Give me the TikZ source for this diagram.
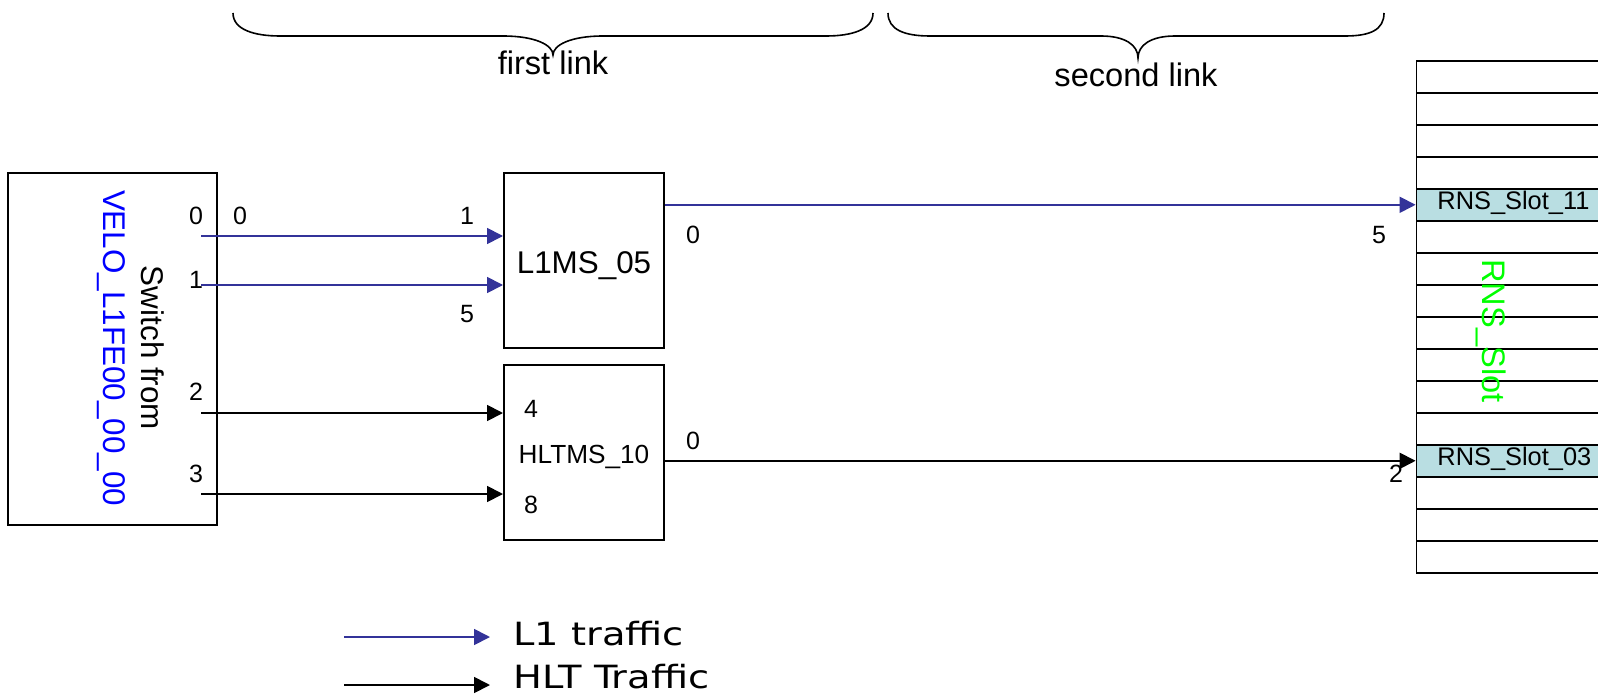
\documentclass[tikz,border=0pt]{standalone}
\usepackage{fontspec}
\setmainfont{Liberation Sans}
\newfontfamily\legendfont[FakeStretch=1.2]{DejaVu Sans}
\usetikzlibrary{arrows.meta}
\definecolor{linkblue}{RGB}{51,51,153}
\definecolor{textblue}{RGB}{0,0,255}
\definecolor{slotgreen}{RGB}{0,255,0}
\definecolor{slotfill}{RGB}{185,222,226}
\begin{document}
\begin{tikzpicture}[x=0.5pt,y=-0.5pt,
  box/.style={draw, line width=1pt, inner sep=0pt},
  row/.style={draw, line width=0.9pt, minimum width=92pt, minimum height=16pt, inner sep=0pt},
  port/.style={font=\fontsize{12.5}{14}\selectfont, inner sep=0pt, anchor=base},
  l1/.style={draw=linkblue, line width=0.9pt, -{Triangle[length=8pt,width=8pt]}},
  hlt/.style={draw=black, line width=0.9pt, -{Triangle[length=8pt,width=8pt]}},
  bracepath/.style={line width=0.8pt},
  bigtext/.style={font=\fontsize{15.7}{19}\selectfont, inner sep=0pt, anchor=base},
  legendtext/.style={anchor=base west, inner sep=0pt, font=\legendfont\fontsize{16}{19}\selectfont}]
\useasboundingbox (0,0) rectangle (1598,695);
\clip (0,0) rectangle (1598,695);

% braces over the two links
\draw[bracepath] (233,13) .. controls (233,30) and (255,36) .. (280,36) -- (503,36)
  .. controls (535,36) and (553,45) .. (553,55)
  .. controls (553,45) and (571,36) .. (603,36) -- (826,36)
  .. controls (851,36) and (873,30) .. (873,13);
\draw[bracepath] (888,13) .. controls (888,30) and (905,36) .. (930,36) -- (1101,36)
  .. controls (1125,36) and (1138,45) .. (1138,58)
  .. controls (1138,45) and (1151,36) .. (1175,36) -- (1345,36)
  .. controls (1370,36) and (1384,30) .. (1384,13);
\node[bigtext, font=\fontsize{16.3}{19}\selectfont] (firstlink) at (553,75) {first link};
\node[bigtext, font=\fontsize{16.3}{19}\selectfont] (secondlink) at (1136,87) {second link};

% source switch
\node[box, minimum width=104.5pt, minimum height=176pt] (sw) at (112.5,349) {};
\node[bigtext, rotate=-90] (swtitle) at (141,348) {Switch from};
\node[bigtext, rotate=-90, text=textblue] (swid) at (103,348) {VELO\_L1FE00\_00\_00};
\node[port] (sw0) at (196,225) {0};
\node[port] (sw0b) at (240,225) {0};
\node[port] (sw1) at (196,288) {1};
\node[port] (sw2) at (196,400) {2};
\node[port] (sw3) at (196,482) {3};
\coordinate (o0) at (201,236);
\coordinate (o1) at (201,285);
\coordinate (o2) at (201,413);
\coordinate (o3) at (201,494);

% mid-level switches
\node[box, minimum width=80pt, minimum height=87.5pt] (l1ms) at (584,260.5) {};
\node[bigtext] (l1mstext) at (584,273) {L1MS\_05};
\node[box, minimum width=80pt, minimum height=87.5pt] (hltms) at (584,452.5) {};
\node[bigtext, font=\fontsize{13.1}{15}\selectfont] (hltmstext) at (584,463) {HLTMS\_10};
\node[port] (l1in1) at (467,225) {1};
\node[port] (l1in5) at (467,322) {5};
\node[port] (hltin4) at (531,417) {4};
\node[port] (hltin8) at (531,513) {8};

% RNS slot rack
\foreach \i in {0,...,15}
  \node[row] (r\i) at (1508.5,76.8+32*\i) {};
\node[row, fill=slotfill] (r4) at (1508.5,76.8+32*4) {};
\node[row, fill=slotfill] (r12) at (1508.5,76.8+32*12) {};
\node[port, anchor=base west, font=\fontsize{12.7}{14}\selectfont] (slot11) at (1437,209) {RNS\_Slot\_11};
\node[port, anchor=base west, font=\fontsize{12.7}{14}\selectfont] (slot03) at (1437,465) {RNS\_Slot\_03};
\node[bigtext, rotate=-90, text=slotgreen, font=\fontsize{16.3}{19}\selectfont] (rnsname) at (1482,331) {RNS\_Slot};

% first link connectors
\draw[l1] (o0) -- (o0 -| l1ms.west);
\draw[l1] (o1) -- (o1 -| l1ms.west);
\draw[hlt] (o2) -- (o2 -| hltms.west);
\draw[hlt] (o3) -- (o3 -| hltms.west);

% second link connectors
\draw[l1] (l1ms.east |- r4.west) -- (r4.west);
\draw[hlt] (hltms.east |- r12.west) -- (r12.west);
\node[port] (l1out0) at (693,243) {0};
\node[port] (rns5) at (1379,243) {5};
\node[port] (hltout0) at (693,449) {0};
\node[port] (rns2) at (1396,482) {2};

% legend
\coordinate (lga) at (344,637);
\coordinate (lgb) at (490,637);
\coordinate (lgc) at (344,685);
\coordinate (lgd) at (490,685);
\draw[l1] (lga) -- (lgb);
\draw[hlt] (lgc) -- (lgd);
\node[legendtext] (lgl1) at (513,645) {L1 traffic};
\node[legendtext] (lghlt) at (513,688) {HLT Traffic};
\end{tikzpicture}
\end{document}
